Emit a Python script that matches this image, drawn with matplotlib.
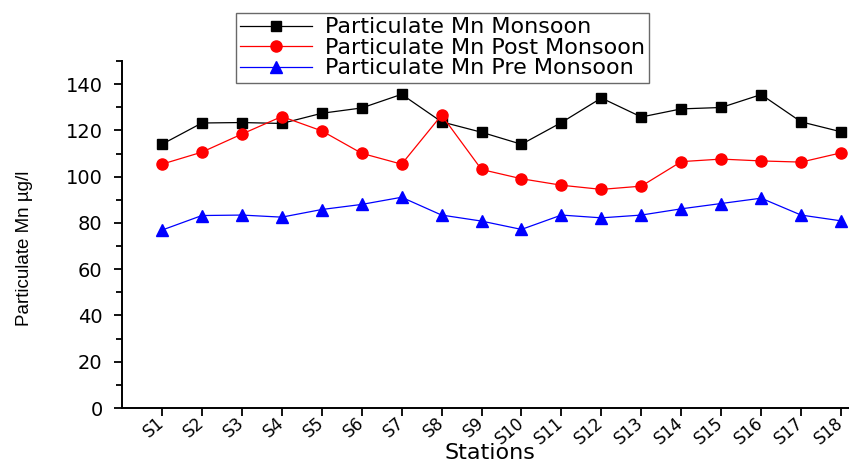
import numpy as np
import matplotlib.pyplot as plt
from matplotlib.ticker import MultipleLocator

stations = ['S%d' % i for i in range(1, 19)]

monsoon = [114.0, 123.2, 123.4, 123.0, 127.4, 129.7, 135.6, 123.7, 119.2,
           114.0, 123.4, 134.0, 125.8, 129.3, 129.9, 135.5, 123.7, 119.4]
post_monsoon = [105.4, 110.6, 118.4, 126.0, 119.8, 110.1, 105.4, 126.6, 103.1,
                99.1, 96.3, 94.5, 95.9, 106.5, 107.6, 106.8, 106.3, 110.3]
pre_monsoon = [76.9, 83.2, 83.4, 82.5, 85.8, 88.0, 91.1, 83.4, 80.8,
               77.2, 83.4, 82.2, 83.4, 86.1, 88.4, 90.7, 83.4, 80.9]

x = np.arange(1, len(stations) + 1)

fig = plt.figure(figsize=(8.49, 4.63), dpi=100)
# axes runs past the right edge of the figure, as in the original crop
ax = fig.add_axes([122 / 849, 55 / 463, 759 / 849, 347 / 463])

ax.plot(x, monsoon, color='black', lw=0.9, marker='s', ms=7,
        label='Particulate Mn Monsoon')
ax.plot(x, post_monsoon, color='red', lw=0.9, marker='o', ms=8,
        label='Particulate Mn Post Monsoon')
ax.plot(x, pre_monsoon, color='blue', lw=0.9, marker='^', ms=8.5,
        label='Particulate Mn Pre Monsoon')

ax.set_xlim(0, 19)
ax.set_ylim(0, 150)
ax.set_xticks(x)
ax.set_xticklabels(stations, rotation=40, ha='right', va='center',
                   rotation_mode='anchor', fontsize=12)
ax.yaxis.set_major_locator(MultipleLocator(20))
ax.yaxis.set_minor_locator(MultipleLocator(10))
ax.tick_params(axis='y', labelsize=14, width=1.3, length=6, pad=8)
ax.tick_params(axis='y', which='minor', width=1.3, length=4)
ax.tick_params(axis='x', width=1.3, length=6, pad=3)

for side in ['top', 'right']:
    ax.spines[side].set_visible(False)
for side in ['left', 'bottom']:
    ax.spines[side].set_linewidth(1.4)

ax.set_xlabel('Stations', fontsize=16)
ax.xaxis.set_label_coords(0.485, -0.1)
ax.set_ylabel('Particulate Mn µg/l', fontsize=13.5, family='Liberation Sans')
ax.yaxis.set_label_coords(-0.117, 0.461)

fig.legend(loc='upper left', bbox_to_anchor=(236 / 849, 1 - 13 / 463),
           fontsize=16, frameon=True, fancybox=False, edgecolor='#444444',
           handlelength=3.2, labelspacing=0.02, borderpad=0.2,
           handletextpad=0.6, borderaxespad=0)

fig.savefig('out.png', dpi=100)
